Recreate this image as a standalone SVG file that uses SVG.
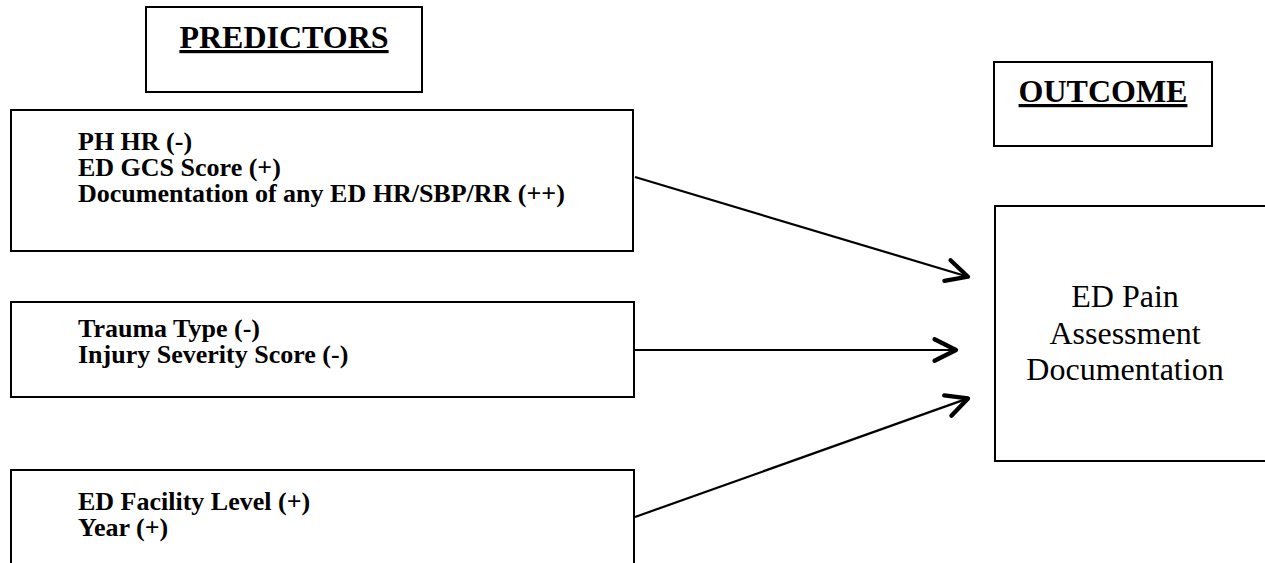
<svg xmlns="http://www.w3.org/2000/svg" width="1265" height="563" viewBox="0 0 1265 563">
  <style>
    .box { fill: #ffffff; stroke: #000000; stroke-width: 2; }
    .hdr { font-family: "Liberation Serif", "Times New Roman", serif; font-size: 32px; font-weight: bold; text-anchor: middle; fill: #000000; text-decoration: underline; }
    .lbl { font-family: "Liberation Serif", "Times New Roman", serif; font-size: 26px; font-weight: bold; fill: #000000; }
    .out { font-family: "Liberation Serif", "Times New Roman", serif; font-size: 32px; text-anchor: middle; fill: #000000; }
    .conn { stroke: #000000; stroke-width: 2.2; fill: none; marker-end: url(#chev); }
  </style>
  <defs>
    <marker id="chev" markerUnits="userSpaceOnUse" markerWidth="30" markerHeight="30" viewBox="-24 -14 28 28" refX="0" refY="0" orient="auto">
      <path d="M-20,-10 L0,0 L-20,10" fill="none" stroke="#000000" stroke-width="4" stroke-linecap="round" stroke-linejoin="round"/>
    </marker>
  </defs>
  <rect width="1265" height="563" fill="#ffffff"/>

  <g id="predictors-header">
    <rect class="box" x="146" y="7" width="276" height="85"/>
    <text class="hdr" x="284" y="48">PREDICTORS</text>
  </g>

  <g id="outcome-header">
    <rect class="box" x="994" y="62" width="218" height="84"/>
    <text class="hdr" x="1103" y="102">OUTCOME</text>
  </g>

  <g id="predictor-group-1">
    <rect class="box" x="11" y="110" width="622" height="141"/>
    <text class="lbl" x="78" y="150"><tspan x="78" y="150">PH HR (-)</tspan><tspan x="78" y="176">ED GCS Score (+)</tspan><tspan x="78" y="202">Documentation of any ED HR/SBP/RR (++)</tspan></text>
  </g>

  <g id="predictor-group-2">
    <rect class="box" x="11" y="302" width="623" height="95"/>
    <text class="lbl" x="78" y="337"><tspan x="78" y="337">Trauma Type (-)</tspan><tspan x="78" y="363">Injury Severity Score (-)</tspan></text>
  </g>

  <g id="predictor-group-3">
    <rect class="box" x="11" y="470" width="623" height="110"/>
    <text class="lbl" x="78" y="510"><tspan x="78" y="510">ED Facility Level (+)</tspan><tspan x="78" y="536">Year (+)</tspan></text>
  </g>

  <g id="outcome">
    <rect class="box" x="995" y="206" width="280" height="255"/>
    <text class="out" x="1125" y="307"><tspan x="1125" y="307">ED Pain</tspan><tspan x="1125" y="344">Assessment</tspan><tspan x="1125" y="380">Documentation</tspan></text>
  </g>

  <g id="connectors">
    <line class="conn" x1="635" y1="177" x2="968" y2="276.7"/>
    <line class="conn" x1="634" y1="350" x2="956" y2="350"/>
    <line class="conn" x1="635" y1="517" x2="968" y2="398.4"/>
  </g>
</svg>
